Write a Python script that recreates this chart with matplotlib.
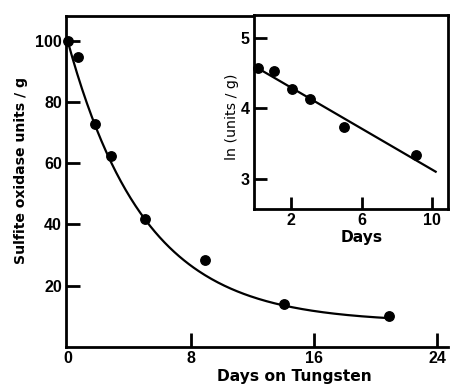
import numpy as np
import matplotlib
matplotlib.use("Agg")
import matplotlib.pyplot as plt

# ---- data ----
main_days = [0.0, 0.7, 1.8, 2.85, 5.0, 8.9, 14.05, 20.9]
main_units = [100.0, 94.5, 72.9, 62.2, 41.7, 28.4, 14.0, 10.1]
main_xticks = [0, 8, 16, 24]
main_yticks = [20, 40, 60, 80, 100]

# fitted decay curve drawn in the figure: plateau + (start - plateau) * exp(-rate * t)
fit_start = 100.0
fit_plateau = 8.0
fit_rate = 0.20
fit_tmax = 20.9

inset_days = [0.1, 1.03, 2.04, 3.08, 5.03, 9.1]
inset_ln = [4.57, 4.53, 4.28, 4.13, 3.74, 3.34]
inset_xticks = [2, 6, 10]
inset_yticks = [3, 4, 5]
# fitted straight line in the inset
line_intercept = 4.59
line_slope = -0.146
line_x = [0.0, 10.2]

FONT = "Liberation Sans"
LABELFONT = ["DejaVu Sans"]
plt.rcParams["font.family"] = [FONT, "DejaVu Sans"]

W, H = 450, 387
fig = plt.figure(figsize=(W / 100, H / 100), dpi=100)

# ---- main axes ----
ax = fig.add_axes([66 / W, 1 - 347 / H, (448 - 66) / W, (347 - 16) / H])
ax.set_xlim(-0.1, 24.7)
ax.set_ylim(0, 108)
for s in ["left", "bottom", "top"]:
    ax.spines[s].set_linewidth(2.0)
ax.spines["right"].set_visible(False)

t = np.linspace(0, fit_tmax, 200)
ax.plot(t, fit_plateau + (fit_start - fit_plateau) * np.exp(-fit_rate * t),
        color="black", lw=1.6, zorder=2)
ax.plot(main_days, main_units, "o", color="black", ms=6.8, zorder=3, clip_on=False)

ax.set_xticks(main_xticks)
ax.set_yticks(main_yticks)
ax.tick_params(direction="in", length=10, width=2.0, labelsize=11.5, pad=3)
for lab in ax.get_xticklabels() + ax.get_yticklabels():
    lab.set_fontweight("bold")
ax.xaxis.get_major_ticks()[0].tick1line.set_visible(False)

fig.text(21 / W, 1 - 170 / H, "Sulfite oxidase units / g", fontsize=10.1,
         fontweight="bold", family=LABELFONT, rotation=90, ha="center", va="center")
fig.text(294 / W, 1 - 377 / H, "Days on Tungsten", fontsize=11.2,
         fontweight="bold", family=LABELFONT, ha="center", va="center")

# ---- inset ----
ins = fig.add_axes([254 / W, 1 - 209 / H, (448 - 254) / W, (209 - 15) / H])
ins.set_facecolor("white")
ins.set_xlim(-0.1, 10.9)
ins.set_ylim(2.57, 5.33)
for s in ins.spines.values():
    s.set_linewidth(2.0)
lx = np.array(line_x)
ins.plot(lx, line_intercept + line_slope * lx, color="black", lw=1.6, zorder=2)
ins.plot(inset_days, inset_ln, "o", color="black", ms=6.8, zorder=3, clip_on=False)
ins.set_xticks(inset_xticks)
ins.set_yticks(inset_yticks)
ins.tick_params(direction="in", length=9, width=2.0, labelsize=11.5, pad=3)
for lab in ins.get_xticklabels() + ins.get_yticklabels():
    lab.set_fontweight("bold")
fig.text(362 / W, 1 - 238 / H, "Days", fontsize=11.2, fontweight="bold",
         family=LABELFONT, ha="center", va="center")
fig.text(232 / W, 1 - 117 / H, "ln (units / g)", fontsize=10.2, family=LABELFONT,
         rotation=90, ha="center", va="center")

fig.savefig("out.png", dpi=100, facecolor="white")
